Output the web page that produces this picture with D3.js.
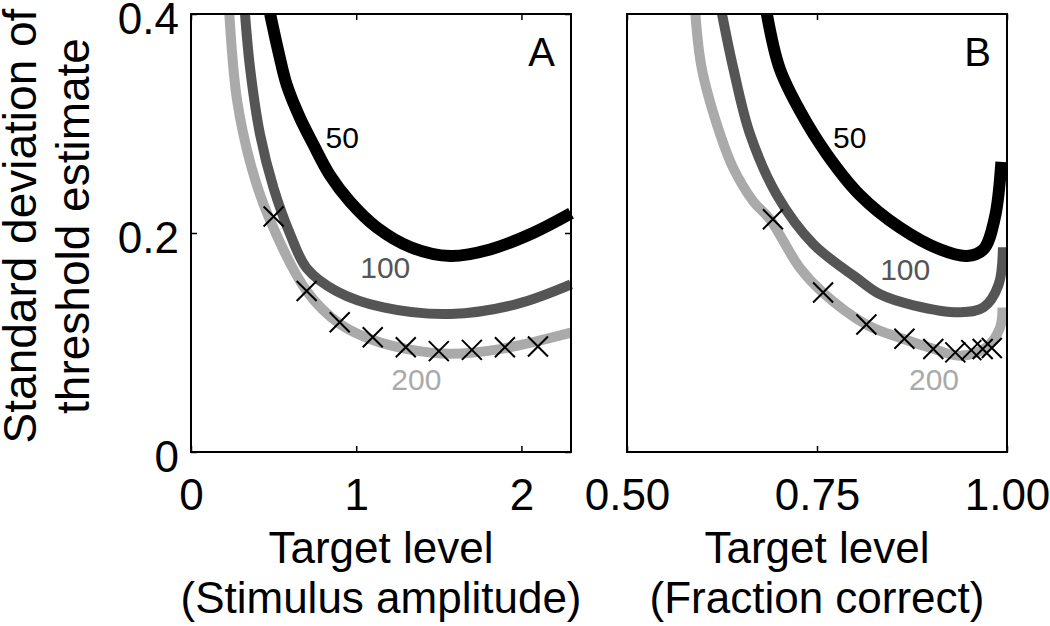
<!DOCTYPE html>
<html><head><meta charset="utf-8">
<script src="https://cdn.jsdelivr.net/npm/d3@7"></script>
<style>
body{margin:0;background:#fff;}
svg{display:block;font-family:"Liberation Sans",Arial,Helvetica,sans-serif;}
</style></head>
<body><svg id="c" width="1050" height="626"></svg>
<script>
// ---- data ----
const seriesNames = ["50","100","200"];
const seriesColors = ["#000000","#555555","#aaaaaa"];

// Panel A: stimulus amplitude
const xA50  = [0.479,0.53,0.58,0.66,0.74,0.84,0.96,1.125,1.33,1.57,1.81,2.07,2.3];
const yA50  = [0.40,0.365,0.335,0.305,0.281,0.253,0.229,0.205,0.187,0.179,0.185,0.200,0.218];
const xA100 = [0.327,0.358,0.418,0.50,0.60,0.70,0.88,1.165,1.57,1.97,2.3];
const yA100 = [0.40,0.350,0.290,0.241,0.199,0.168,0.147,0.132,0.126,0.135,0.153];
const xA200 = [0.232,0.28,0.368,0.469,0.70,0.90,1.105,1.31,1.57,1.87,2.3];
const yA200 = [0.40,0.32,0.259,0.215,0.147,0.117,0.102,0.094,0.0897,0.094,0.109];
const xAmark = [0.5,0.7,0.9,1.1,1.3,1.5,1.7,1.9,2.1];
const yAmark = [0.215,0.147,0.1185,0.1048,0.0957,0.0921,0.0933,0.0957,0.0964];

// Panel B: fraction correct
const xB50  = [0.684,0.701,0.728,0.763,0.806,0.859,0.912,0.947,0.969,0.984,0.9926];
const yB50  = [0.40,0.350,0.311,0.272,0.235,0.205,0.185,0.179,0.185,0.214,0.265];
const xB100 = [0.625,0.640,0.662,0.697,0.745,0.802,0.833,0.877,0.939,0.969,0.989,0.9946];
const yB100 = [0.40,0.350,0.29,0.235,0.190,0.159,0.144,0.134,0.1276,0.132,0.153,0.187];
const xB200 = [0.590,0.5985,0.6226,0.640,0.666,0.688,0.7276,0.7575,0.815,0.863,0.903,0.938,0.973,0.991,0.994];
const yB200 = [0.40,0.350,0.290,0.259,0.229,0.2125,0.168,0.1457,0.1164,0.1034,0.0943,0.088,0.0957,0.114,0.132];
const xBmark = [0.692,0.758,0.815,0.865,0.903,0.932,0.953,0.968,0.98];
const yBmark = [0.2125,0.1457,0.1164,0.1034,0.094,0.091,0.093,0.094,0.095];

const xTicksA = [0,1,2];
const xTicksB = [0.5,0.75,1.0];
const yTicks = [0,0.2,0.4];

// label anchor positions in data units (baseline)
const labA = [{t:"50",x:0.915,y:0.2776},{t:"100",x:1.176,y:0.159},{t:"200",x:1.364,y:0.0566}];
const labB = [{t:"50",x:0.793,y:0.2776},{t:"100",x:0.866,y:0.157},{t:"200",x:0.904,y:0.0566}];

// ---- drawing ----
const svg = d3.select("#c");
const pTop = 14, pBottom = 452;
const FS = 44;
const y = d3.scaleLinear().domain([0,0.4]).range([pBottom, pTop]);

function panel(id, left, right, xdom, xticks, tickFmt, curves, mx, my, labs, letter, showY){
  const x = d3.scaleLinear().domain(xdom).range([left,right]);
  const g = svg.append("g");
  const clipId = "clip"+id;
  svg.append("clipPath").attr("id",clipId).append("rect")
     .attr("x",left).attr("y",pTop).attr("width",right-left+6).attr("height",pBottom-pTop);
  const line = d3.line().x(d=>x(d[0])).y(d=>y(d[1])).curve(d3.curveCatmullRom.alpha(0.5));
  const cg = g.append("g").attr("clip-path","url(#"+clipId+")");
  curves.forEach((c,i)=>{
    const pts = c[0].map((v,k)=>[v,c[1][k]]);
    cg.append("path").attr("d",line(pts)).attr("fill","none")
      .attr("stroke",seriesColors[i]).attr("stroke-width", i===0?12:10)
      .attr("stroke-linecap","butt").attr("stroke-linejoin","round");
  });
  const s = 10;
  mx.forEach((v,k)=>{
    const cx = x(v), cy = y(my[k]);
    g.append("path").attr("d",`M${cx-s},${cy-s}L${cx+s},${cy+s}M${cx-s},${cy+s}L${cx+s},${cy-s}`)
      .attr("stroke","#000").attr("stroke-width",2).attr("fill","none");
  });
  labs.forEach((l,i)=>{
    g.append("text").attr("x",x(l.x)).attr("y",y(l.y)).attr("text-anchor","middle")
      .attr("font-size",30).attr("fill",seriesColors[i]).text(l.t);
  });
  g.append("text").attr("x",right-16).attr("y",pTop+52).attr("text-anchor","end")
    .attr("font-size",40).text(letter);
  g.append("rect").attr("x",left).attr("y",pTop).attr("width",right-left).attr("height",pBottom-pTop)
    .attr("fill","none").attr("stroke","#000").attr("stroke-width",2);
  const xb = g.append("g").attr("transform",`translate(0,${pBottom})`)
    .call(d3.axisBottom(x).tickValues(xticks).tickFormat(tickFmt).tickSizeInner(-6).tickSizeOuter(0).tickPadding(27));
  xb.select(".domain").remove();
  xb.selectAll("line").attr("stroke-width",1.5);
  xb.selectAll("text").attr("font-size",FS).attr("font-family","Liberation Sans, Arial, sans-serif").attr("fill","#000");
  const xt = g.append("g").attr("transform",`translate(0,${pTop})`)
    .call(d3.axisTop(x).tickValues(xticks).tickFormat("").tickSizeInner(-6).tickSizeOuter(0));
  xt.select(".domain").remove();
  xt.selectAll("line").attr("stroke-width",1.5);
  if(showY){
    const yl = g.append("g").attr("transform",`translate(${left},0)`)
      .call(d3.axisLeft(y).tickValues(yTicks).tickFormat(d=>d===0?"0":d3.format(".1f")(d)).tickSizeInner(-6).tickSizeOuter(0).tickPadding(12));
    yl.select(".domain").remove();
    yl.selectAll("line").attr("stroke-width",1.5);
    yl.selectAll("text").attr("font-size",FS).attr("dy","0.45em").attr("font-family","Liberation Sans, Arial, sans-serif").attr("fill","#000");
    const yr = g.append("g").attr("transform",`translate(${right},0)`)
      .call(d3.axisRight(y).tickValues(yTicks).tickFormat("").tickSizeInner(-6).tickSizeOuter(0));
    yr.select(".domain").remove();
    yr.selectAll("line").attr("stroke-width",1.5);
  }
  return x;
}

panel("A",191,571,[0,2.3],xTicksA,d3.format("d"),
  [[xA50,yA50],[xA100,yA100],[xA200,yA200]], xAmark, yAmark, labA, "A", true);
panel("B",627,1007,[0.5,1.0],xTicksB,d3.format(".2f"),
  [[xB50,yB50],[xB100,yB100],[xB200,yB200]], xBmark, yBmark, labB, "B", false);

function title(cx, lines){
  lines.forEach((t,i)=>{
    svg.append("text").attr("x",cx).attr("y",563+i*50).attr("text-anchor","middle")
      .attr("font-size",FS).text(t);
  });
}
title(381,["Target level","(Stimulus amplitude)"]);
title(817,["Target level","(Fraction correct)"]);

const yt = svg.append("g").attr("transform","translate(0,226) rotate(-90)");
yt.append("text").attr("x",0).attr("y",36).attr("text-anchor","middle").attr("font-size",46).text("Standard deviation of");
yt.append("text").attr("x",0).attr("y",89).attr("text-anchor","middle").attr("font-size",46).text("threshold estimate");
</script></body></html>
